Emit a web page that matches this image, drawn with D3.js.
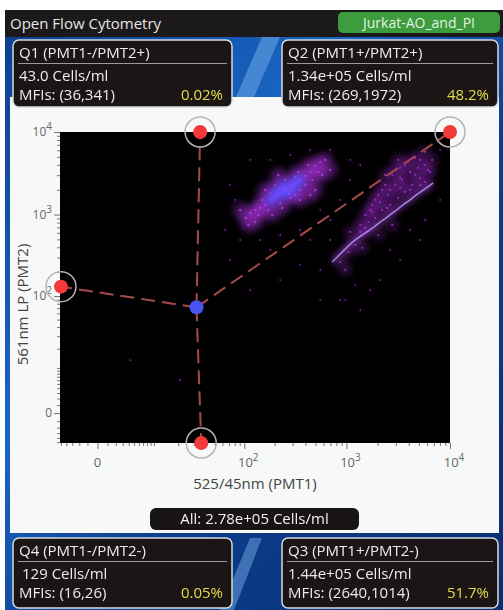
<!DOCTYPE html>
<html>
<head>
<meta charset="utf-8">
<script src="https://cdn.jsdelivr.net/npm/d3@7"></script>
<style>
body { margin: 0; background: #fff; overflow: hidden; }
text { font-family: "Open Sans", sans-serif; }
</style>
</head>
<body>
<svg></svg>
<script>
// quadrant stats
const quadNames = ['Q1 (PMT1-/PMT2+)', 'Q2 (PMT1+/PMT2+)', 'Q4 (PMT1-/PMT2-)', 'Q3 (PMT1+/PMT2-)'];
const quadCounts = ['43.0 Cells/ml', '1.34e+05 Cells/ml', '129 Cells/ml', '1.44e+05 Cells/ml'];
const quadMfis = ['MFIs: (36,341)', 'MFIs: (269,1972)', 'MFIs: (16,26)', 'MFIs: (2640,1014)'];
const quadPcts = ['0.02%', '48.2%', '0.05%', '51.7%'];
const totalLabel = 'All: 2.78e+05 Cells/ml';

// axis ticks
const majorTicks = [0, 100, 1000, 10000];
const majorExp = ['', '2', '3', '4'];
const minorTicks = [-5, -4, -3, -2, -1, 1, 2, 3, 4, 5, 6, 7, 8, 9,
  10, 20, 30, 40, 50, 60, 70, 80, 90,
  200, 300, 400, 500, 600, 700, 800, 900,
  2000, 3000, 4000, 5000, 6000, 7000, 8000, 9000];

// quad gate (PMT1, PMT2)
const gateCenter = [32, 72];
const gateHandles = [[35, 10000], [10000, 10000], [-5, 131], [36, -5.2]];

// events: [PMT1, PMT2]
const coreA = [
  [227, 1830], [254, 1990], [285, 2165], [203, 1637], [319, 2420], [243, 2226],
  [273, 1780], [217, 1990], [298, 1990], [181, 1505], [356, 2630], [266, 2105],
  [237, 1882], [208, 1731], [305, 2290], [194, 1592], [333, 2488]
];
const cloudA = [
  [161, 1309], [144, 1204], [129, 1138], [399, 2943], [446, 3290], [499, 3890],
  [558, 4346], [181, 1830], [203, 2290], [254, 2630], [319, 2862], [285, 1592],
  [227, 1384], [356, 1990], [399, 2290], [173, 1138], [138, 990], [466, 2630],
  [115, 1046], [150, 1505], [534, 3290], [427, 4000], [341, 3290], [189, 990],
  [237, 1204], [319, 1731], [103, 910], [129, 813], [356, 1505], [499, 1990],
  [624, 4595], [583, 3026], [91, 1138], [161, 1990], [217, 3026], [446, 1731],
  [697, 3478], [110, 748]
];
const lineB = [
  [729, 264], [834, 313], [952, 371], [1088, 439], [1245, 505], [1422, 565],
  [1626, 632], [1858, 707], [2120, 813], [2423, 910], [2770, 1046], [3160, 1171],
  [3600, 1346], [4130, 1505], [4700, 1731], [5380, 1935], [6130, 2165], [6870, 2420]
];
const cloudB = [
  [871, 264], [1041, 351], [1218, 427], [1088, 615], [1360, 748], [1520, 990],
  [1777, 1309], [2028, 1731], [2370, 2290], [2770, 3026], [3305, 3680], [3900, 4346],
  [4610, 4858], [5750, 5740], [6720, 4595], [6130, 3478], [5150, 2783], [4320, 2290],
  [3690, 1882], [3160, 1592], [2650, 1309], [2216, 1138], [1900, 910], [1626, 813],
  [1360, 615], [2960, 2290], [2535, 1731], [3455, 2630], [4130, 3290], [4920, 3680],
  [2120, 1423], [1777, 1076], [1520, 688], [2370, 3026], [3160, 4595], [5150, 4595],
  [6430, 3290], [5750, 2488], [2770, 748], [2028, 565], [1422, 394], [975, 211],
  [4130, 1990], [3305, 2105], [2477, 1204], [4610, 3026], [3690, 4000], [2960, 3478],
  [2650, 1990], [1900, 1505], [1700, 1138], [5150, 2290], [5750, 4000], [3305, 2783],
  [2216, 1990]
];
const sparse = [
  [91, 491], [72, 2290], [558, 1138], [697, 860], [871, 1505], [356, 650],
  [1088, 2630], [1360, 4000], [446, 6070], [115, 4595], [181, 371], [558, 211],
  [356, 243], [871, 89], [2120, 158], [3305, 280], [5150, 491], [1360, 66],
  [227, 158], [72, 280], [115, 119], [21, 6], [4.3, 13.5], [975, 89],
  [1700, 119], [558, 89], [1218, 137], [2650, 371], [4130, 650], [5750, 860],
  [8030, 1505], [8030, 6070], [1088, 4595], [697, 6070], [285, 5280], [181, 4595],
  [81, 1505], [64, 650], [144, 491], [227, 565], [446, 491], [697, 491]
];

const W = 503, H = 610;
const plot = { left: 60, right: 450, top: 132, bottom: 443 };

const svg = d3.select("svg")
  .attr("width", W)
  .attr("height", H);

const defs = svg.append("defs");

const bg = defs.append("linearGradient")
  .attr("id", "winbg")
  .attr("x1", 0).attr("y1", 0).attr("x2", 1).attr("y2", 1);
bg.append("stop").attr("offset", "0%").attr("stop-color", "#0d3f8f");
bg.append("stop").attr("offset", "35%").attr("stop-color", "#1a66c4");
bg.append("stop").attr("offset", "60%").attr("stop-color", "#0c3d8c");
bg.append("stop").attr("offset", "100%").attr("stop-color", "#0a2f70");

defs.append("filter").attr("id", "glow")
  .attr("x", "-50%").attr("y", "-50%").attr("width", "200%").attr("height", "200%")
  .append("feGaussianBlur").attr("stdDeviation", 3);
defs.append("filter").attr("id", "soft")
  .attr("x", "-50%").attr("y", "-50%").attr("width", "200%").attr("height", "200%")
  .append("feGaussianBlur").attr("stdDeviation", 0.6);

defs.append("clipPath").attr("id", "plotclip")
  .append("rect")
  .attr("x", plot.left).attr("y", plot.top)
  .attr("width", plot.right - plot.left)
  .attr("height", plot.bottom - plot.top);

// windows-ish backdrop
svg.append("rect")
  .attr("x", 5).attr("y", 30).attr("width", W - 5).attr("height", H - 30)
  .attr("fill", "url(#winbg)");
svg.append("path")
  .attr("d", "M236,97 L262,37 L280,37 L254,97 Z M220,610 L250,538 L262,538 L234,610 Z")
  .attr("fill", "#7fb8f0")
  .attr("opacity", 0.45);

// title bar
svg.append("rect")
  .attr("x", 5).attr("y", 10).attr("width", W - 5).attr("height", 27)
  .attr("fill", "#1b1919");
svg.append("text")
  .attr("x", 10).attr("y", 29)
  .attr("font-size", 15)
  .attr("fill", "#e6e6e6")
  .text("Open Flow Cytometry");
svg.append("rect")
  .attr("x", 338).attr("y", 12).attr("width", 162).attr("height", 21)
  .attr("rx", 5)
  .attr("fill", "#3d9c3d");
svg.append("text")
  .attr("x", 419).attr("y", 28)
  .attr("text-anchor", "middle")
  .attr("font-size", 14)
  .attr("fill", "#e4f2e4")
  .text("Jurkat-AO_and_PI");

// white panel
svg.append("rect")
  .attr("x", 10).attr("y", 97).attr("width", 489).attr("height", 436)
  .attr("fill", "#f7f9f8");

// scales
const x = d3.scaleSymlog().constant(4)
  .domain([-5.2, 10000])
  .range([plot.left, plot.right]);
const y = d3.scaleSymlog().constant(4)
  .domain([-5.2, 10000])
  .range([plot.bottom, plot.top]);

svg.append("rect")
  .attr("x", plot.left).attr("y", plot.top)
  .attr("width", plot.right - plot.left)
  .attr("height", plot.bottom - plot.top)
  .attr("fill", "#000");

// axes
function styleAxis(g) {
  g.select(".domain").remove();
  g.selectAll(".tick line").attr("stroke", "#777");
  g.selectAll(".tick text").remove();
}
svg.append("g")
  .attr("transform", `translate(${plot.left},0)`)
  .call(d3.axisLeft(y).tickValues(minorTicks).tickSize(3))
  .call(styleAxis);
svg.append("g")
  .attr("transform", `translate(${plot.left},0)`)
  .call(d3.axisLeft(y).tickValues(majorTicks).tickSize(6))
  .call(styleAxis);
svg.append("g")
  .attr("transform", `translate(0,${plot.bottom})`)
  .call(d3.axisBottom(x).tickValues(minorTicks).tickSize(3))
  .call(styleAxis);
svg.append("g")
  .attr("transform", `translate(0,${plot.bottom})`)
  .call(d3.axisBottom(x).tickValues(majorTicks).tickSize(6))
  .call(styleAxis);

function tickLabel(sel, i) {
  sel.append("tspan").text(i === 0 ? "0" : "10");
  if (majorExp[i]) {
    sel.append("tspan")
      .attr("dy", -6)
      .attr("font-size", 10)
      .text(majorExp[i]);
  }
}
majorTicks.forEach((v, i) => {
  svg.append("text")
    .attr("x", plot.left - 8)
    .attr("y", y(v) + 4)
    .attr("text-anchor", "end")
    .attr("font-size", 12)
    .attr("fill", "#666")
    .call(tickLabel, i);
  svg.append("text")
    .attr("x", x(v) + (i === 0 ? 0 : 4))
    .attr("y", plot.bottom + 24)
    .attr("text-anchor", "middle")
    .attr("font-size", 13)
    .attr("fill", "#666")
    .call(tickLabel, i);
});

svg.append("text")
  .attr("x", (plot.left + plot.right) / 2)
  .attr("y", 489)
  .attr("text-anchor", "middle")
  .attr("font-size", 15)
  .attr("fill", "#444")
  .text("525/45nm (PMT1)");
svg.append("text")
  .attr("transform", `translate(28,${(plot.top + plot.bottom) / 2 + 17}) rotate(-90)`)
  .attr("text-anchor", "middle")
  .attr("font-size", 15)
  .attr("fill", "#444")
  .text("561nm LP (PMT2)");

// events
const dots = svg.append("g").attr("clip-path", "url(#plotclip)");

function cloud(data, color, glowR, glowOp, dotR, dotOp) {
  dots.append("g").attr("filter", "url(#glow)")
    .selectAll("circle")
    .data(data)
    .enter().append("circle")
    .attr("cx", d => x(d[0]))
    .attr("cy", d => y(d[1]))
    .attr("r", glowR)
    .attr("fill", color)
    .attr("opacity", glowOp);
  dots.append("g").attr("filter", "url(#soft)")
    .selectAll("circle")
    .data(data)
    .enter().append("circle")
    .attr("cx", d => x(d[0]))
    .attr("cy", d => y(d[1]))
    .attr("r", dotR)
    .attr("fill", color)
    .attr("opacity", dotOp);
}

cloud(sparse, "#9a2fc8", 1.5, 0.4, 0.9, 0.8);
cloud(cloudB, "#a02cd0", 7, 0.22, 1.1, 0.85);
cloud(cloudA, "#b236e6", 8, 0.32, 1.2, 0.9);
cloud(coreA, "#6a4cff", 7, 0.5, 1.4, 0.9);

const lineGen = d3.line().x(d => x(d[0])).y(d => y(d[1])).curve(d3.curveBasis);
dots.append("path")
  .datum(lineB)
  .attr("d", lineGen)
  .attr("fill", "none")
  .attr("stroke", "#c04cf0")
  .attr("stroke-width", 6)
  .attr("opacity", 0.45)
  .attr("filter", "url(#glow)");
dots.append("path")
  .datum(lineB)
  .attr("d", lineGen)
  .attr("fill", "none")
  .attr("stroke", "#b0a0ff")
  .attr("stroke-width", 1.6)
  .attr("opacity", 0.8)
  .attr("filter", "url(#soft)");

// gate
svg.append("g").selectAll("line")
  .data(gateHandles)
  .enter().append("line")
  .attr("x1", x(gateCenter[0]))
  .attr("y1", y(gateCenter[1]))
  .attr("x2", d => x(d[0]))
  .attr("y2", d => y(d[1]))
  .attr("stroke", "#a84a4a")
  .attr("stroke-width", 2)
  .attr("stroke-dasharray", "14,7");

svg.append("g").selectAll("circle")
  .data(gateHandles)
  .enter().append("circle")
  .attr("cx", d => x(d[0]))
  .attr("cy", d => y(d[1]))
  .attr("r", 15)
  .attr("fill", "none")
  .attr("stroke", "#b4b4b4")
  .attr("stroke-width", 1.5);
svg.append("g").selectAll("circle")
  .data(gateHandles)
  .enter().append("circle")
  .attr("cx", d => x(d[0]))
  .attr("cy", d => y(d[1]))
  .attr("r", 7)
  .attr("fill", "#f23a3a");
svg.append("circle")
  .attr("cx", x(gateCenter[0]))
  .attr("cy", y(gateCenter[1]))
  .attr("r", 7)
  .attr("fill", "#4a55f0");

// total box
svg.append("rect")
  .attr("x", 150).attr("y", 508).attr("width", 209).attr("height", 22)
  .attr("rx", 6)
  .attr("fill", "#181414");
svg.append("text")
  .attr("x", 254.5).attr("y", 524)
  .attr("text-anchor", "middle")
  .attr("font-size", 15)
  .attr("fill", "#f0f0f0")
  .text(totalLabel);

// quadrant boxes
const boxPos = [[13, 40, 219, 67], [282, 40, 216, 67], [13, 538, 219, 70], [282, 538, 216, 70]];

boxPos.forEach((b, i) => {
  const [bx, by, bw, bh] = b;
  svg.append("rect")
    .attr("x", bx).attr("y", by).attr("width", bw).attr("height", bh)
    .attr("rx", 6)
    .attr("fill", "#1c1515")
    .attr("stroke", "#d4dae0")
    .attr("stroke-width", 1.5);
  svg.append("text")
    .attr("x", bx + 6).attr("y", by + 18)
    .attr("font-size", 15)
    .attr("fill", "#ececec")
    .text(quadNames[i]);
  svg.append("line")
    .attr("x1", bx + 5).attr("x2", bx + bw - 5)
    .attr("y1", by + 23.5).attr("y2", by + 23.5)
    .attr("stroke", "#9a9a9a")
    .attr("stroke-width", 1);
  svg.append("text")
    .attr("x", bx + (i === 2 ? 9 : 6)).attr("y", by + 41)
    .attr("font-size", 15)
    .attr("fill", "#ececec")
    .text(quadCounts[i]);
  svg.append("text")
    .attr("x", bx + 6).attr("y", by + 60)
    .attr("font-size", 15)
    .attr("fill", "#ececec")
    .text(quadMfis[i]);
  svg.append("text")
    .attr("x", bx + bw - 9).attr("y", by + 60)
    .attr("text-anchor", "end")
    .attr("font-size", 15)
    .attr("fill", "#e2dc4c")
    .text(quadPcts[i]);
});
</script>
</body>
</html>
